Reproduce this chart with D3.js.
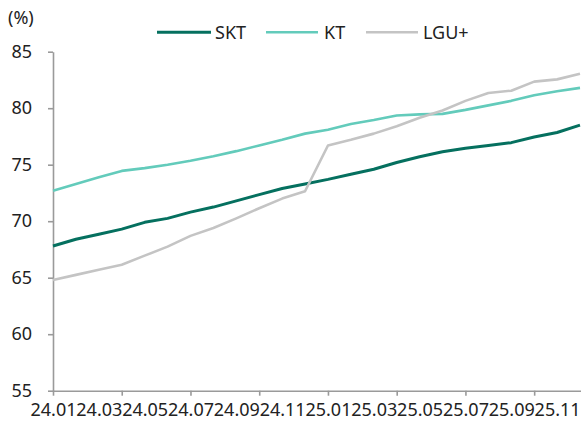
<!DOCTYPE html>
<html>
<head>
<meta charset="utf-8">
<script src="https://cdn.jsdelivr.net/npm/d3@7"></script>
<style>
  html, body { margin: 0; padding: 0; background: #fff; }
  svg { display: block; font-family: "Noto Sans", sans-serif; }
</style>
</head>
<body>
<svg id="chart" width="581" height="423"></svg>
<script>
const months = ["24.01","24.02","24.03","24.04","24.05","24.06","24.07","24.08","24.09","24.10","24.11","24.12",
                "25.01","25.02","25.03","25.04","25.05","25.06","25.07","25.08","25.09","25.10","25.11","25.12"];
const labelMonths = ["24.01","24.03","24.05","24.07","24.09","24.11","25.01","25.03","25.05","25.07","25.09","25.11"];
const tickMonths = ["24.01","24.04","24.07","24.10","25.01","25.04","25.07","25.10"];
const yTicks = [55, 60, 65, 70, 75, 80, 85];

const skt = [67.8, 68.4, 68.85, 69.3, 69.9, 70.25, 70.8, 71.25, 71.8, 72.35, 72.9, 73.3,
             73.7, 74.15, 74.6, 75.2, 75.7, 76.15, 76.45, 76.7, 76.95, 77.45, 77.85, 78.5];
const kt  = [72.7, 73.3, 73.9, 74.45, 74.7, 75.0, 75.35, 75.75, 76.2, 76.7, 77.2, 77.75,
             78.1, 78.6, 78.95, 79.35, 79.45, 79.5, 79.85, 80.25, 80.65, 81.15, 81.5, 81.8];
const lgu = [64.8, 65.25, 65.7, 66.15, 66.95, 67.75, 68.7, 69.4, 70.25, 71.15, 72.0, 72.65,
             76.7, 77.2, 77.75, 78.4, 79.15, 79.8, 80.65, 81.35, 81.55, 82.35, 82.55, 83.05];

const seriesNames = ["SKT", "KT", "LGU+"];
const seriesColors = ["#05705f", "#63cbbb", "#c4c4c4"];
const seriesWidths = [3, 2.6, 2.6];
const seriesData = [skt, kt, lgu];

const svg = d3.select("#chart");
const plotLeft = 53, plotRight = 580, plotTop = 51.7, plotBottom = 390.7;
const axisColor = "#9a9a9a";
const textColor = "#222";

const x = d3.scalePoint().domain(months).range([plotLeft, plotRight]);
const y = d3.scaleLinear().domain([55, 85]).range([plotBottom, plotTop]);

// Y axis
const yAxis = svg.append("g").attr("transform", `translate(${plotLeft},0)`)
  .call(d3.axisLeft(y).tickValues(yTicks).tickSize(5).tickSizeOuter(0).tickPadding(16));
yAxis.selectAll("path, line").attr("stroke", axisColor).attr("stroke-width", 1.6);
yAxis.selectAll("text").attr("font-size", 18).attr("fill", textColor)
  .attr("font-family", "Noto Sans, sans-serif");

// X axis: tick marks
const xTickAxis = svg.append("g").attr("transform", `translate(0,${plotBottom})`)
  .call(d3.axisBottom(x).tickValues(tickMonths).tickSize(5).tickSizeOuter(0).tickFormat(""));
xTickAxis.select("path").attr("d", `M${plotLeft},0.5H${581}`);
xTickAxis.selectAll("path, line").attr("stroke", axisColor).attr("stroke-width", 1.6);

// X axis: labels
const xLabelAxis = svg.append("g").attr("transform", `translate(0,${plotBottom})`)
  .call(d3.axisBottom(x).tickValues(labelMonths).tickSize(0).tickPadding(13));
xLabelAxis.select("path").remove();
xLabelAxis.selectAll("text").attr("font-size", 18).attr("fill", textColor)
  .attr("font-family", "Noto Sans, sans-serif");

// Lines
const line = d3.line().x((d, i) => x(months[i])).y(d => y(d));
seriesData.forEach((data, k) => {
  svg.append("path")
    .datum(data)
    .attr("fill", "none")
    .attr("stroke", seriesColors[k])
    .attr("stroke-width", seriesWidths[k])
    .attr("stroke-linejoin", "round")
    .attr("d", line);
});

// Unit label
svg.append("text").attr("x", 8).attr("y", 24).attr("font-size", 18)
  .attr("fill", textColor).text("(%)");

// Legend
const legendItems = [
  { x1: 157, x2: 211, tx: 215 },
  { x1: 266, x2: 318, tx: 324 },
  { x1: 366, x2: 418, tx: 423 }
];
const legendY = 32.3;
legendItems.forEach((it, k) => {
  svg.append("line").attr("x1", it.x1).attr("x2", it.x2)
    .attr("y1", legendY).attr("y2", legendY)
    .attr("stroke", seriesColors[k]).attr("stroke-width", seriesWidths[k]);
  svg.append("text").attr("x", it.tx).attr("y", legendY).attr("dy", "0.35em")
    .attr("font-size", 18).attr("fill", textColor).text(seriesNames[k]);
});
</script>
</body>
</html>
